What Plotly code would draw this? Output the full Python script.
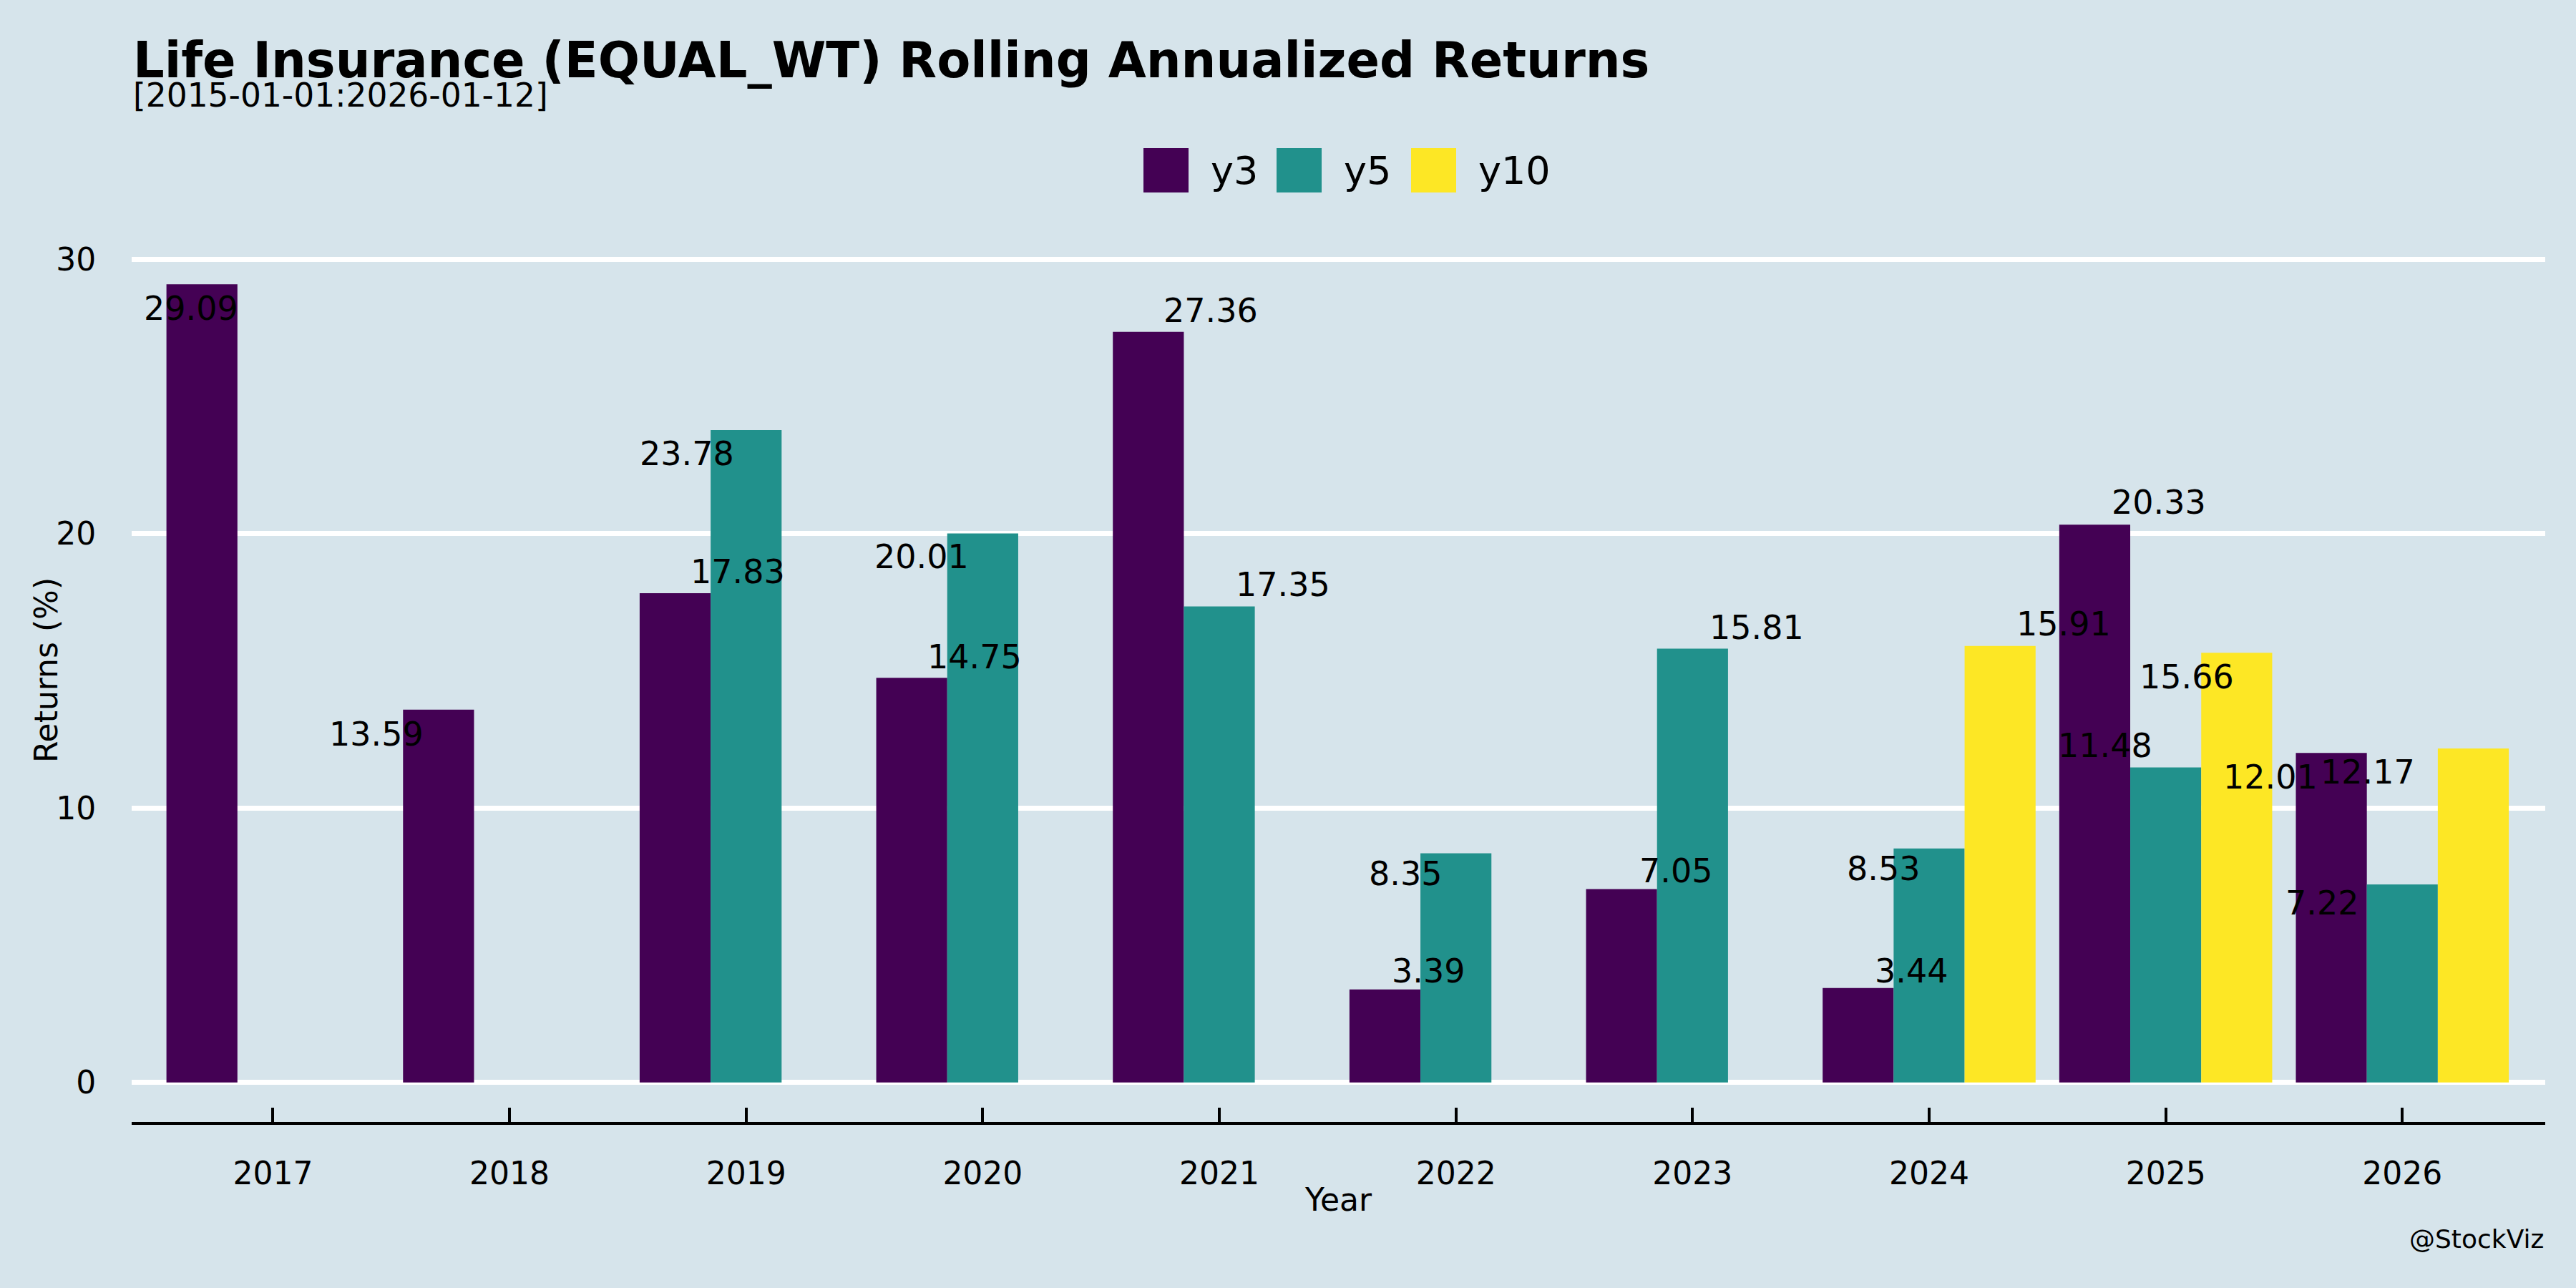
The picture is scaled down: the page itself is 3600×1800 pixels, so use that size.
import plotly.graph_objects as go

years = [2017, 2018, 2019, 2020, 2021, 2022, 2023, 2024, 2025, 2026]
y3 = [29.09, 13.59, 17.83, 14.75, 27.36, 3.39, 7.05, 3.44, 20.33, 12.01]
y5 = [None, None, 23.78, 20.01, 17.35, 8.35, 15.81, 8.53, 11.48, 7.22]
y10 = [None, None, None, None, None, None, None, 15.91, 15.66, 12.17]
series_names = ["y3", "y5", "y10"]
series_colors = ["#440154", "#21918c", "#fde725"]

# label placement (offsets from each year / value, as placed by the original text-repel step)
y3_label_dx = [-0.347, -0.5625, -0.035, -0.035, -0.035, -0.118, -0.07, -0.076, -0.028, -0.556]
y3_label_dy = [-0.89, -0.9, 0.79, 0.76, 0.78, 0.68, 0.67, 0.63, 0.81, -0.87]
y5_label_dx = [None, None, -0.25, -0.257, 0.27, -0.215, 0.27, -0.194, -0.257, -0.34]
y5_label_dy = [None, None, -0.85, -0.85, 0.79, -0.75, 0.78, -0.75, 0.8, -0.69]
y10_label_dx = [None, None, None, None, None, None, None, 0.57, 0.09, -0.146]
y10_label_dy = [None, None, None, None, None, None, None, 0.8, -0.87, -0.85]

title = "Life Insurance (EQUAL_WT) Rolling Annualized Returns"
subtitle = "[2015-01-01:2026-01-12]"
y_title = "Returns (%)"
x_title = "Year"
credit = "@StockViz"

BG = "#d6e4eb"
FONT = "DejaVu Sans"
W, H = 3600, 1800
ML, MR, MT, MB = 184, 43, 321, 232
PH = H - MT - MB

fig = go.Figure()
for name, vals, col in zip(series_names, [y3, y5, y10], series_colors):
    fig.add_trace(go.Bar(x=years, y=vals, name=name, marker=dict(color=col, line=dict(width=0)),
                         showlegend=False))

annotations = []
for vals, dxs, dys in [(y3, y3_label_dx, y3_label_dy), (y5, y5_label_dx, y5_label_dy),
                       (y10, y10_label_dx, y10_label_dy)]:
    for yr, v, dx, dy in zip(years, vals, dxs, dys):
        if v is None:
            continue
        annotations.append(dict(x=yr + dx, y=v + dy, xref="x", yref="y", text=f"{v:.2f}",
                                showarrow=False, font=dict(family=FONT, size=46, color="black"),
                                xanchor="center", yanchor="middle"))

def py(px):
    return (H - MB - px) / PH

def pxx(px):
    return (px - ML) / (W - ML - MR)

annotations.append(dict(x=pxx(184), y=py(84), xref="paper", yref="paper", text=f"<b>{title}</b>",
                        showarrow=False, xanchor="left", yanchor="middle",
                        font=dict(family=FONT, size=68.6, color="black")))
annotations.append(dict(x=pxx(184), y=py(134), xref="paper", yref="paper", text=subtitle,
                        showarrow=False, xanchor="left", yanchor="middle",
                        font=dict(family=FONT, size=45.5, color="black")))
annotations.append(dict(x=pxx(64), y=py(937), xref="paper", yref="paper", text=y_title,
                        showarrow=False, xanchor="center", yanchor="middle", textangle=-90,
                        font=dict(family=FONT, size=44, color="black")))
annotations.append(dict(x=pxx(1870), y=py(1676), xref="paper", yref="paper", text=x_title,
                        showarrow=False, xanchor="center", yanchor="middle",
                        font=dict(family=FONT, size=44, color="black")))
annotations.append(dict(x=pxx(3557), y=py(1731), xref="paper", yref="paper", text=credit,
                        showarrow=False, xanchor="right", yanchor="middle",
                        font=dict(family=FONT, size=36, color="black")))

# custom legend
shapes = []
legend_sw_x = [1598, 1784, 1972]
legend_tx_x = [1690, 1876, 2064]
for name, col, sx, tx in zip(series_names, series_colors, legend_sw_x, legend_tx_x):
    shapes.append(dict(type="rect", xref="paper", yref="paper", x0=pxx(sx), x1=pxx(sx + 63),
                       y0=py(269), y1=py(207), fillcolor=col, line=dict(width=0)))
    annotations.append(dict(x=pxx(tx), y=py(238), xref="paper", yref="paper", text=name,
                            showarrow=False, xanchor="left", yanchor="middle",
                            font=dict(family=FONT, size=54, color="black")))

fig.update_layout(
    width=W, height=H,
    margin=dict(l=ML, r=MR, t=MT, b=MB, pad=0),
    paper_bgcolor=BG, plot_bgcolor=BG,
    barmode="group", bargap=0.1, bargroupgap=0,
    font=dict(family=FONT, size=44, color="black"),
    annotations=annotations, shapes=shapes,
    showlegend=False,
)
fig.update_xaxes(range=[2016.403, 2026.604], tickvals=years, ticktext=[str(y) for y in years],
                 showgrid=False, zeroline=False, showline=True, linecolor="black", linewidth=4,
                 ticks="inside", ticklen=20, tickwidth=4, tickcolor="black",
                 ticklabelstandoff=30,
                 tickfont=dict(family=FONT, size=44, color="black"))
fig.update_yaxes(range=[-1.44, 31.08], tickvals=[0, 10, 20, 30], showgrid=True, gridcolor="white",
                 gridwidth=7, zeroline=False, showline=False, ticks="outside", ticklen=40,
                 tickcolor="rgba(0,0,0,0)", tickfont=dict(family=FONT, size=44, color="black"))

fig.write_html("out.html", config={"displayModeBar": False},
               post_script="document.body.style.margin='0px';document.body.style.background='%s';" % BG)
